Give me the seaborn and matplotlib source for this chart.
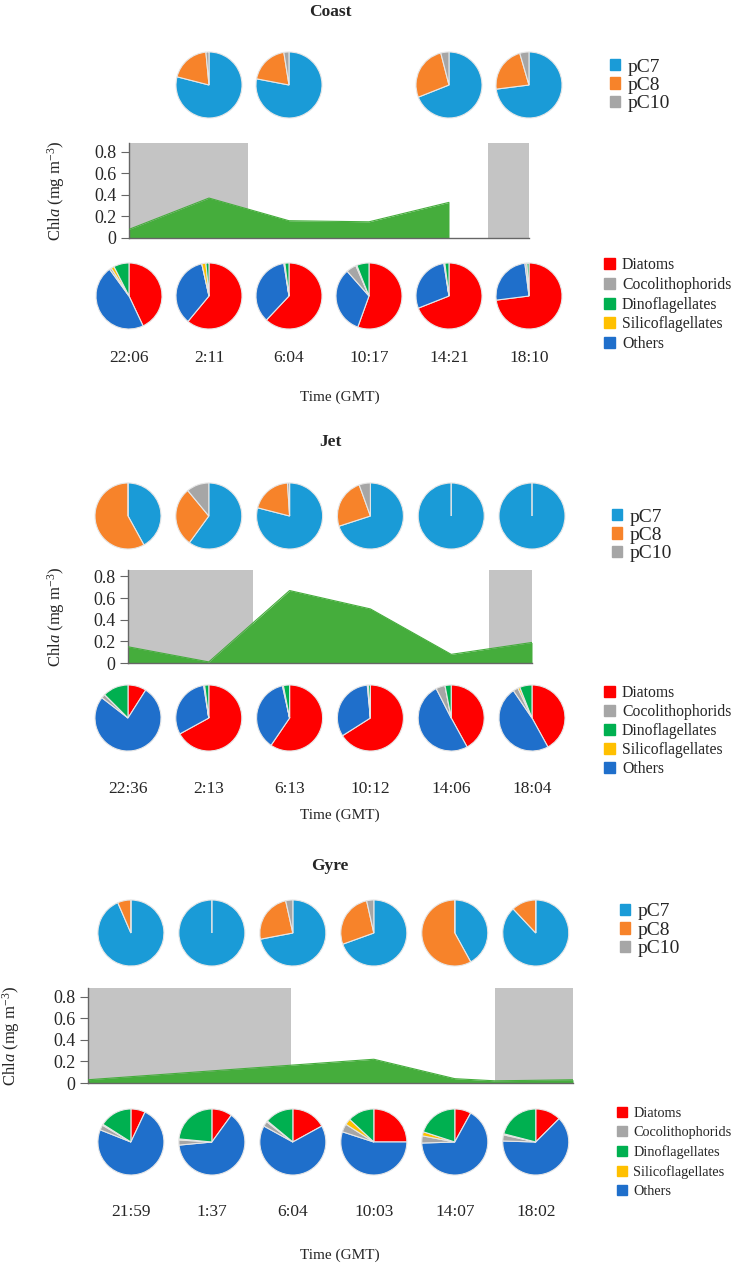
import numpy as np
import pandas as pd
import matplotlib
matplotlib.use('Agg')
import matplotlib.pyplot as plt
from matplotlib.patches import Patch
import seaborn as sns

W, H = 750, 1273

SIZE_NAMES = ['pC7', 'pC8', 'pC10']
SIZE_COLORS = ['#1a9bd7', '#f7832a', '#a6a6a6']
GROUP_NAMES = ['Diatoms', 'Cocolithophorids', 'Dinoflagellates', 'Silicoflagellates', 'Others']
GROUP_COLORS = ['#ff0000', '#a6a6a6', '#00b050', '#ffc000', '#1f6fcb']
# wedges are drawn clockwise from 12 o'clock in this order
PIE_ORDER = [0, 4, 1, 3, 2]
GREEN = '#45ad3c'
NIGHT = '#c4c4c4'

# ---------------- Coast ----------------
coast_times = ['22:06', '2:11', '6:04', '10:17', '14:21', '18:10']
coast_x = [0, 1, 2, 3, 4, 5]
coast_chla = [0.08, 0.37, 0.16, 0.15, 0.33, np.nan]
coast_night = [(0, 1.49), (4.49, 5)]
coast_size = [None, [0.79, 0.195, 0.015], [0.78, 0.195, 0.025], None,
              [0.69, 0.27, 0.04], [0.73, 0.225, 0.045]]
coast_diatoms = [0.43, 0.61, 0.62, 0.555, 0.69, 0.73]
coast_cocco = [0.01, 0.0, 0.005, 0.05, 0.005, 0.01]
coast_dino = [0.075, 0.015, 0.02, 0.06, 0.02, 0.01]
coast_silico = [0.015, 0.02, 0.0, 0.005, 0.0, 0.0]
coast_others = [0.47, 0.355, 0.355, 0.33, 0.285, 0.25]

# ---------------- Jet ----------------
jet_times = ['22:36', '2:13', '6:13', '10:12', '14:06', '18:04']
jet_x = [0, 1, 2, 3, 4, 5]
jet_chla = [0.15, 0.01, 0.67, 0.50, 0.08, 0.19]
jet_night = [(0, 1.55), (4.47, 5)]
jet_size = [[0.42, 0.58, 0.0], [0.60, 0.29, 0.11], [0.79, 0.20, 0.01],
            [0.70, 0.245, 0.055], [1.0, 0.0, 0.0], [1.0, 0.0, 0.0]]
jet_diatoms = [0.09, 0.67, 0.595, 0.66, 0.42, 0.42]
jet_cocco = [0.02, 0.005, 0.005, 0.005, 0.045, 0.025]
jet_dino = [0.125, 0.02, 0.03, 0.01, 0.03, 0.06]
jet_silico = [0.0, 0.0, 0.0, 0.0, 0.0, 0.01]
jet_others = [0.765, 0.305, 0.37, 0.325, 0.505, 0.485]

# ---------------- Gyre ----------------
gyre_times = ['21:59', '1:37', '6:04', '10:03', '14:07', '18:02']
gyre_x = [-0.53, 3.0, 4.0, 4.5, 5.46]
gyre_chla = [0.03, 0.22, 0.04, 0.02, 0.03]
gyre_night = [(-0.53, 1.98), (4.5, 5.46)]
gyre_size = [[0.935, 0.065, 0.0], [1.0, 0.0, 0.0], [0.72, 0.245, 0.035],
             [0.695, 0.27, 0.035], [0.42, 0.58, 0.0], [0.88, 0.12, 0.0]]
gyre_diatoms = [0.07, 0.10, 0.17, 0.25, 0.08, 0.125]
gyre_cocco = [0.025, 0.025, 0.025, 0.04, 0.035, 0.03]
gyre_dino = [0.16, 0.235, 0.14, 0.13, 0.20, 0.21]
gyre_silico = [0.005, 0.005, 0.005, 0.03, 0.02, 0.005]
gyre_others = [0.74, 0.635, 0.66, 0.55, 0.665, 0.63]

panels = [
    dict(name='Coast', times=coast_times, x=coast_x, chla=coast_chla, night=coast_night,
         size=coast_size, groups=[coast_diatoms, coast_cocco, coast_dino, coast_silico, coast_others],
         title_y=12, top_y=85, area=(129, 529, 143, 238), xlim=(0, 5), ytop=0.88, ylab=-62,
         bot_y=296, lab_y=358, xlab_y=397, leg1=(610, 58.5), leg2=(604, 257),
         leg2_fs=11.3, leg2_sp=0.24),
    dict(name='Jet', times=jet_times, x=jet_x, chla=jet_chla, night=jet_night,
         size=jet_size, groups=[jet_diatoms, jet_cocco, jet_dino, jet_silico, jet_others],
         title_y=442, top_y=516, area=(128, 532, 570, 663), xlim=(0, 5), ytop=0.86, ylab=-61,
         bot_y=718, lab_y=789, xlab_y=815, leg1=(612, 508.5), leg2=(604, 685),
         leg2_fs=11.3, leg2_sp=0.19),
    dict(name='Gyre', times=gyre_times, x=gyre_x, chla=gyre_chla, night=gyre_night,
         size=gyre_size, groups=[gyre_diatoms, gyre_cocco, gyre_dino, gyre_silico, gyre_others],
         title_y=866, top_y=933, area=(88, 573, 988, 1083), xlim=(-0.53, 5.46), ytop=0.88, ylab=-66,
         bot_y=1142, lab_y=1212, xlab_y=1255, leg1=(620, 903.5), leg2=(617, 1107),
         leg2_fs=10.3, leg2_sp=0.42),
]

sns.set_theme(style='ticks')
plt.rcParams['font.family'] = ['Liberation Serif', 'DejaVu Serif']
plt.rcParams['mathtext.fontset'] = 'custom'
plt.rcParams['mathtext.rm'] = 'Liberation Serif'
plt.rcParams['mathtext.it'] = 'Liberation Serif:italic'

fig = plt.figure(figsize=(W / 100, H / 100), dpi=100)
fig.patch.set_facecolor('white')


def px_axes(x0, y0, w, h):
    return fig.add_axes([x0 / W, 1 - (y0 + h) / H, w / W, h / H])


def draw_pie(cx, cy, vals, colors, d=68):
    ax = px_axes(cx - d / 2, cy - d / 2, d, d)
    ax.pie(vals, colors=colors, startangle=90, counterclock=False, radius=1,
           wedgeprops=dict(edgecolor='#e6e6e6', linewidth=0.8))
    ax.set_xlim(-1.03, 1.03)
    ax.set_ylim(-1.03, 1.03)


for p in panels:
    x0, x1, y0, y1 = p['area']
    xmin, xmax = p['xlim']

    def slot_px(i):
        return x0 + (i - xmin) / (xmax - xmin) * (x1 - x0)

    fig.text(330 / W, 1 - p['title_y'] / H, p['name'], ha='center', va='center',
             fontsize=12.5, fontweight='bold')

    # picoeukaryote size classes
    for i, vals in enumerate(p['size']):
        if vals is None:
            continue
        draw_pie(slot_px(i), p['top_y'], vals, SIZE_COLORS)

    # Chl a time series
    ax = px_axes(x0, y0, x1 - x0, y1 - y0)
    for a, b in p['night']:
        ax.axvspan(a, b, color=NIGHT, lw=0, zorder=0)
    df = pd.DataFrame({'x': p['x'], 'chla': p['chla']})
    ax.fill_between(df['x'], 0, df['chla'], color=GREEN, lw=0, zorder=2)
    sns.lineplot(data=df, x='x', y='chla', color=GREEN, lw=0.8, ax=ax, zorder=3)
    ax.set_xlim(xmin, xmax)
    ax.set_ylim(0, p['ytop'])
    ax.set_xticks([])
    ax.set_yticks([0, 0.2, 0.4, 0.6, 0.8])
    ax.set_yticklabels(['0', '0.2', '0.4', '0.6', '0.8'], fontsize=13)
    ax.tick_params(axis='y', length=6, width=0.8, color='#666666', pad=3)
    for side in ['top', 'right']:
        ax.spines[side].set_visible(False)
    for side in ['left', 'bottom']:
        ax.spines[side].set_color('#666666')
        ax.spines[side].set_linewidth(1)
    ax.set_facecolor('white')
    ax.set_xlabel('')
    ax.set_ylabel(r'Chl$\it{a}$ (mg m$^{-3}$)', fontsize=12)
    ax.yaxis.set_label_coords(p['ylab'] / (x1 - x0), 0.5)

    # phytoplankton groups
    for i in range(6):
        vals = [p['groups'][g][i] for g in PIE_ORDER]
        cols = [GROUP_COLORS[g] for g in PIE_ORDER]
        cx = slot_px(i)
        draw_pie(cx, p['bot_y'], vals, cols)
        fig.text(cx / W, 1 - p['lab_y'] / H, p['times'][i], ha='center', va='center', fontsize=12.5)

    fig.text(340 / W, 1 - p['xlab_y'] / H, 'Time (GMT)', ha='center', va='center', fontsize=11)

    # legends
    h1 = [Patch(color=c) for c in SIZE_COLORS]
    fig.legend(h1, SIZE_NAMES, loc='upper left',
               bbox_to_anchor=(p['leg1'][0] / W, 1 - p['leg1'][1] / H),
               frameon=False, fontsize=14, handlelength=0.5, handleheight=0.5,
               handletextpad=0.4, labelspacing=0.07, borderpad=0, borderaxespad=0)
    h2 = [Patch(color=c) for c in GROUP_COLORS]
    fig.legend(h2, GROUP_NAMES, loc='upper left',
               bbox_to_anchor=(p['leg2'][0] / W, 1 - p['leg2'][1] / H),
               frameon=False, fontsize=p['leg2_fs'], handlelength=0.7, handleheight=0.7,
               handletextpad=0.45, labelspacing=p['leg2_sp'], borderpad=0, borderaxespad=0)

fig.savefig('out.png', dpi=100, facecolor='white')
